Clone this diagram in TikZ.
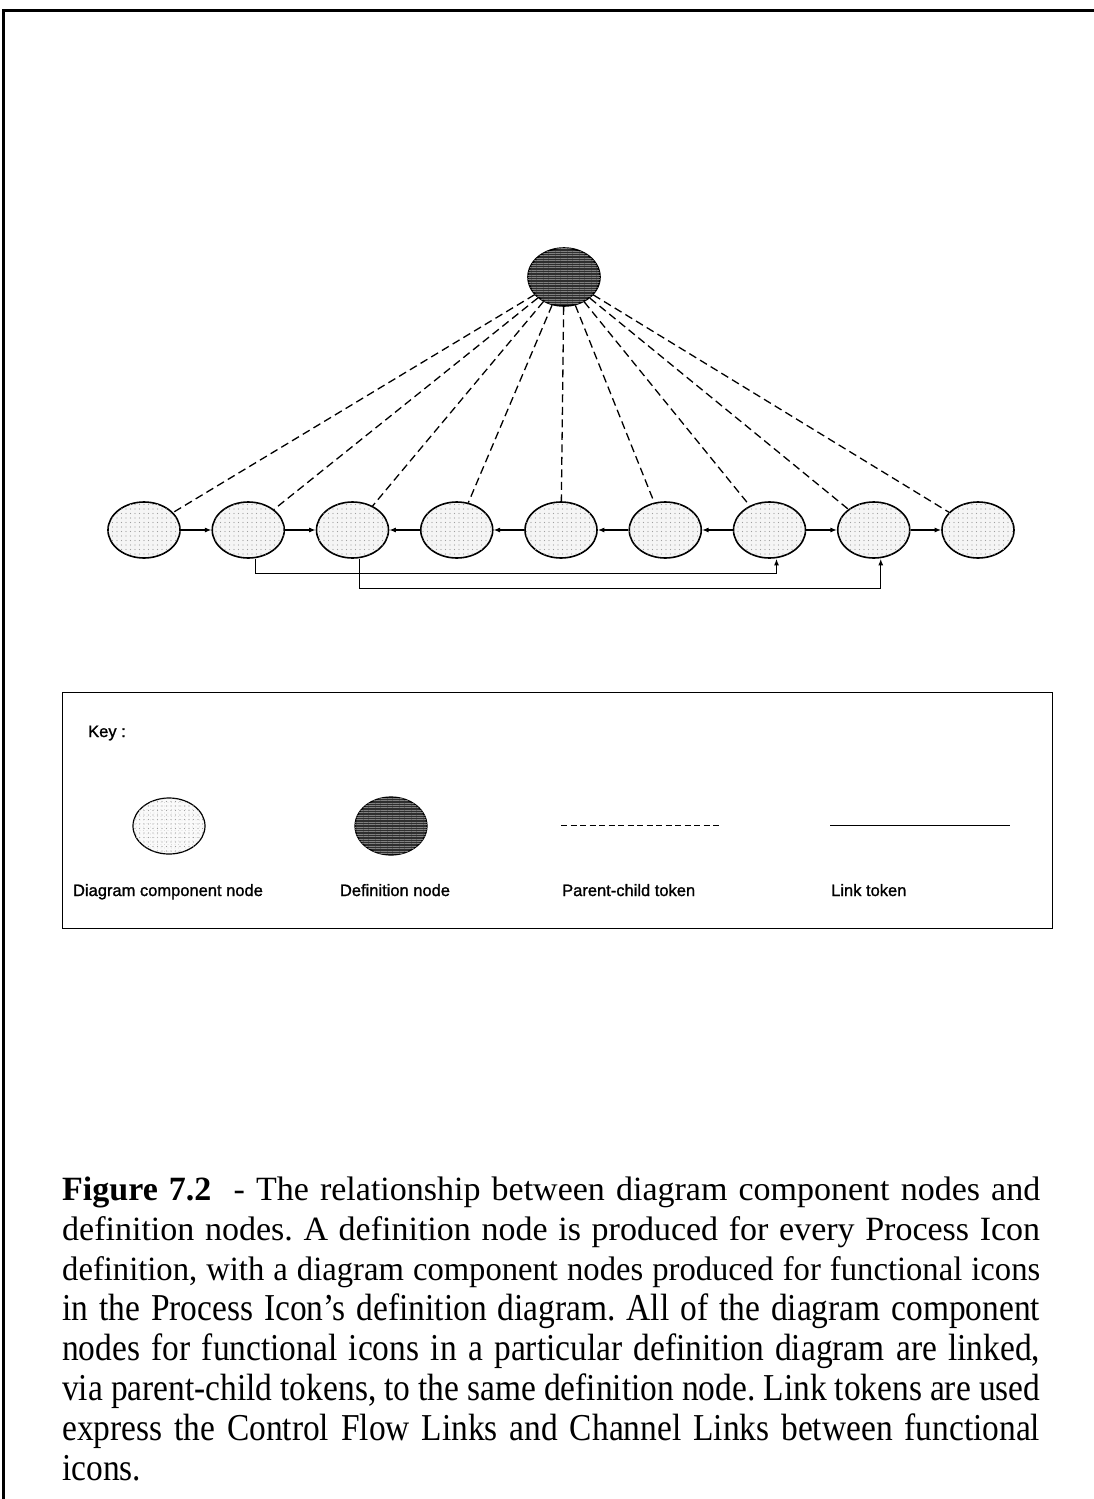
\documentclass[tikz,border=0pt]{standalone}
\usepackage{fontspec}
\setmainfont{Liberation Serif}
\newfontfamily\capsnug[FakeStretch=0.96]{Liberation Serif}
\newfontfamily\capcond[FakeStretch=0.88]{Liberation Serif}
\newfontfamily\keyfont[FakeBold=1.2]{Liberation Sans}
\usetikzlibrary{shapes.geometric,arrows.meta,patterns.meta,calc}
\frenchspacing

\begin{document}
\begin{tikzpicture}[x=1pt,y=-1pt,
  comp/.style={ellipse,draw,line width=1.6pt,minimum width=72pt,minimum height=56pt,inner sep=0pt,
    fill=gray!8,postaction={pattern={Dots[distance=4.5pt,radius=0.55pt]},pattern color=gray!75}},
  defn/.style={ellipse,draw,line width=1.6pt,minimum width=72pt,minimum height=58pt,inner sep=0pt,
    fill=black!82,postaction={pattern={Lines[angle=0,distance=2.4pt,line width=0.6pt]},pattern color=black!50}},
  parent/.style={line width=1.3pt,dash pattern=on 8pt off 4.5pt},
  link/.style={line width=1.3pt},
  flow/.style={link,-{Latex[length=6.5pt,width=5pt]}},
  keytext/.style={font=\keyfont\fontsize{16.5}{18}\selectfont,inner sep=0pt},
  capline/.style={anchor=base west,inner sep=0pt,font=\fontsize{34}{40}\selectfont},
  capsnugline/.style={capline,font=\capsnug\fontsize{34}{40}\selectfont},
  capcondline/.style={capline,font=\capcond\fontsize{38}{40}\selectfont}
]
\useasboundingbox (0,0) rectangle (1094,1499);
\fill[white] (0,0) rectangle (1094,1499);

% page frame (top and left rules)
\draw[line width=3pt] (1094,10) -- (3,10) -- (3,1499);

% definition node and its diagram component nodes
\node[defn] (def) at (564,277) {};
\foreach \i in {1,...,9}
  \node[comp] (n\i) at ({144+104.25*(\i-1)},530) {};

% parent-child tokens
\foreach \i in {1,...,9}
  \draw[parent] (def) -- (n\i);

% control flow links
\draw[flow] (n1) -- (n2);
\draw[flow] (n2) -- (n3);
\draw[flow] (n4) -- (n3);
\draw[flow] (n5) -- (n4);
\draw[flow] (n6) -- (n5);
\draw[flow] (n7) -- (n6);
\draw[flow] (n7) -- (n8);
\draw[flow] (n8) -- (n9);

% channel links
\draw[flow] ([xshift=7pt]n2.south) -- ++(0,15) -| ([xshift=7pt]n7.south);
\draw[flow] ([xshift=7pt]n3.south) -- ++(0,30) -| ([xshift=7pt]n8.south);

% key
\draw[line width=1pt] (62,692) rectangle (1052,928);
\node[keytext,anchor=base west] (key) at (88,737) {Key :};
\node[comp,line width=1.2pt,fill=gray!4,postaction={pattern={Dots[distance=3.5pt,radius=0.4pt]},pattern color=gray!45}] (kc) at (169,826) {};
\node[defn,line width=1.2pt] (kd) at (391,826) {};
\node[keytext,anchor=base] (kcl) at (168,896) {Diagram component node};
\node[keytext,anchor=base] (kdl) at (395,896) {Definition node};
\coordinate (pa) at (561,825);
\coordinate (pb) at (722,825);
\draw[line width=1pt,dash pattern=on 6pt off 3.5pt] (pa) -- (pb);
\node[keytext,anchor=base west] (pcl) at (562,896) {Parent-child token};
\coordinate (la) at (830,825);
\coordinate (lb) at (1010,825);
\draw[line width=1pt] (la) -- (lb);
\node[keytext,anchor=base west] (ltl) at (831,896) {Link token};

% caption
\node[capline] (c1) at (62,1200) {\makebox[978pt][s]{\textbf{Figure 7.2}\ \ - The relationship between diagram component nodes and}};
\node[capline] (c2) at (62,1240) {\makebox[978pt][s]{definition nodes. A definition node is produced for every Process Icon}};
\node[capsnugline] (c3) at (62,1280) {\makebox[978pt][s]{definition, with a diagram component nodes produced for functional icons}};
\node[capcondline] (c4) at (62,1320) {\makebox[978pt][s]{in the Process Icon’s definition diagram. All of the diagram component}};
\node[capcondline] (c5) at (62,1360) {\makebox[978pt][s]{nodes for functional icons in a particular definition diagram are linked,}};
\node[capcondline] (c6) at (62,1400) {\makebox[978pt][s]{via parent-child tokens, to the same definition node. Link tokens are used}};
\node[capcondline] (c7) at (62,1440) {\makebox[978pt][s]{express the Control Flow Links and Channel Links between functional}};
\node[capcondline] (c8) at (62,1480) {icons.};
\end{tikzpicture}
\end{document}
